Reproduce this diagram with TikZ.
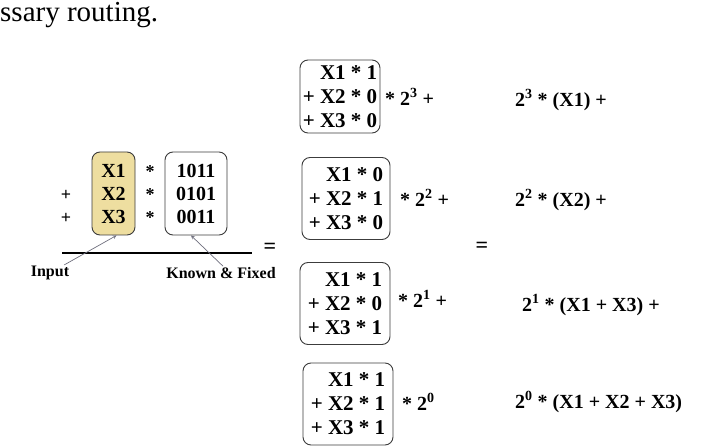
\documentclass[tikz,border=0pt]{standalone}
\usepackage{fontspec}
\setmainfont{Liberation Serif}
\usepackage{xcolor}
\definecolor{inputbg}{RGB}{238,222,160}
\definecolor{boxline}{RGB}{60,60,60}
\definecolor{arrowgray}{RGB}{110,110,125}

\begin{document}
\begin{tikzpicture}[x=1pt, y=-1pt,
    box/.style={draw=boxline, line width=0.9pt, rounded corners=8pt, inner sep=1pt,
                align=center, font=\fontsize{20}{23}\selectfont\bfseries},
    sumbox/.style={box, align=right, minimum height=82pt, font=\fontsize{21}{24}\selectfont\bfseries},
    term/.style={font=\fontsize{18}{23}\selectfont\bfseries, inner sep=1pt},
    result/.style={font=\fontsize{20}{23}\selectfont\bfseries, inner sep=1pt, anchor=west},
    lbl/.style={font=\fontsize{16}{18}\selectfont\bfseries, inner sep=1pt},
    arrow/.style={->, >=stealth, line width=0.7pt, color=arrowgray}
]
    \useasboundingbox (0,0) rectangle (717,446);

    % page text above the figure
    \node[anchor=west, font=\fontsize{29}{32}\selectfont, inner sep=0pt] (cap) at (0,15) {ssary routing.};

    % Left: the product sum
    \node[box, fill=inputbg, minimum width=43pt, minimum height=83pt] (inp) at (113.5,193.5) {X1\\X2\\X3};
    \node[box, fill=white, minimum width=62pt, minimum height=83pt] (knw) at (196,193.5) {1011\\0101\\0011};
    \node[term, align=center] (stars) at (150,195) {*\\*\\*};
    \node[term, align=center] (plus) at (66,206.5) {+\\+};
    \coordinate (lineL) at (62,253);
    \coordinate (lineR) at (252,253);
    \draw[line width=1.6pt] (lineL) -- (lineR);
    \node[term, font=\fontsize{22}{24}\selectfont\bfseries] (eq1) at (270,248) {=};

    % Labels
    \node[lbl] (inlbl) at (50,273) {Input};
    \node[lbl] (knwlbl) at (221,273) {Known \& Fixed};
    \draw[arrow] ([xshift=-6pt]inlbl.north east) -- ([xshift=3pt]inp.south);
    \draw[arrow] ([xshift=2pt]knwlbl.north) -- ([xshift=-5pt]knw.south);

    % Middle: one sum per bit
    \node[sumbox, minimum width=80pt, minimum height=73pt] (s3) at (340,96.5) {X1 * 1\\+ X2 * 0\\+ X3 * 0};
    \node[sumbox, minimum width=88pt] (s2) at (346,198.5) {X1 * 0\\+ X2 * 1\\+ X3 * 0};
    \node[sumbox, minimum width=90pt] (s1) at (345,303.5) {X1 * 1\\+ X2 * 0\\+ X3 * 1};
    \node[sumbox, minimum width=90pt] (s0) at (348,404) {X1 * 1\\+ X2 * 1\\+ X3 * 1};

    \node[result] (m3) at (384,97) {* 2\textsuperscript{3} +};
    \node[result] (m2) at (399,198) {* 2\textsuperscript{2} +};
    \node[result] (m1) at (397,299) {* 2\textsuperscript{1} +};
    \node[result] (m0) at (401,402) {* 2\textsuperscript{0}};

    \node[term, font=\fontsize{22}{24}\selectfont\bfseries] (eq2) at (482,247) {=};

    % Right: collected terms
    \node[result] (r3) at (514,100) {2\textsuperscript{3} * (X1) +};
    \node[result] (r2) at (514,200) {2\textsuperscript{2} * (X2) +};
    \node[result] (r1) at (521,305) {2\textsuperscript{1} * (X1 + X3) +};
    \node[result] (r0) at (514,402) {2\textsuperscript{0} * (X1 + X2 + X3)};
\end{tikzpicture}
\end{document}
